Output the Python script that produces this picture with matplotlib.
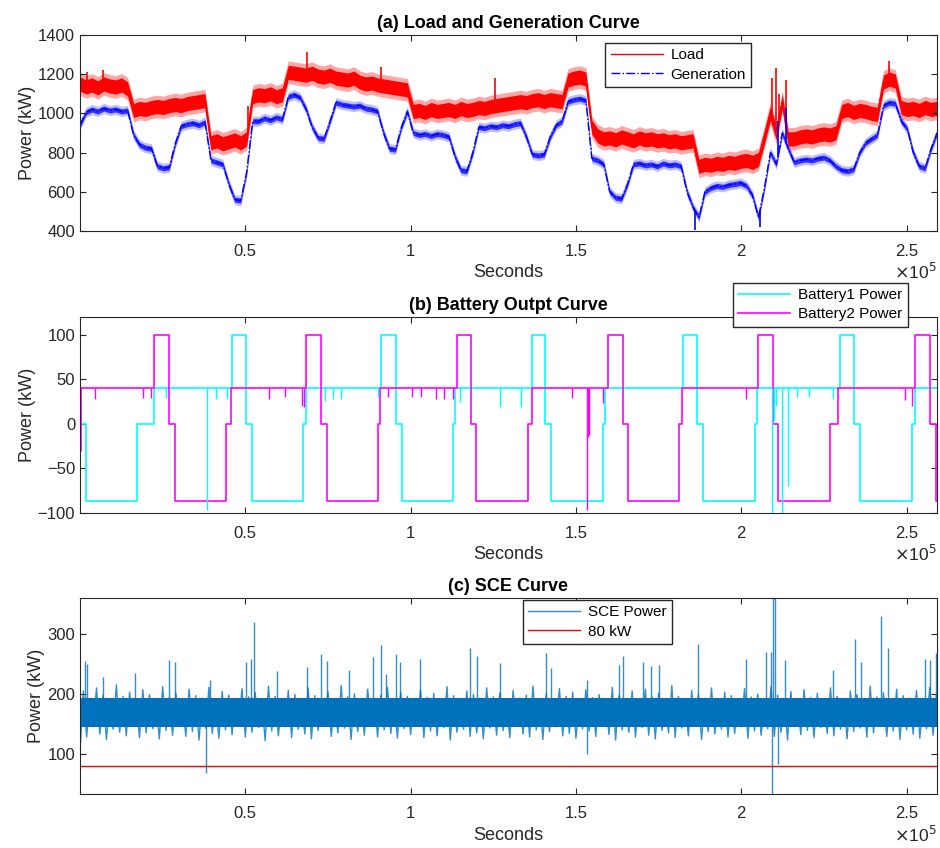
import numpy as np
import matplotlib
matplotlib.use("Agg")
import matplotlib.pyplot as plt

plt.rcParams["font.family"] = ["Liberation Sans", "DejaVu Sans"]

T_END = 259200  # 3 days in seconds

# ---------------- (a) load / generation, one value every 1800 s ----------------
load_kw = np.array([
    1150, 1135, 1145, 1130, 1150, 1140, 1135, 1145, 1125,                    # k0-8
    1015, 1025, 1020, 1030, 1035, 1030, 1040, 1045, 1040, 1050, 1055, 1060, 1065,  # k9-21
    850, 860, 845, 855, 865, 850, 870,                                       # k22-28
    1085, 1095, 1090, 1100, 1085, 1095,                                      # k29-34
    1210, 1205, 1200, 1195, 1205, 1190, 1185, 1195, 1180, 1175, 1170,
    1180, 1160, 1150, 1155, 1145, 1140, 1135, 1130, 1125, 1120,              # k35-55
    1010, 1015, 1005, 1020, 1010, 1015, 1020, 1010, 1025, 1015, 1020, 1030, 1025,
    1035, 1040, 1045, 1050, 1055, 1060, 1055, 1065, 1070, 1060, 1070, 1065, 1060,  # k56-81
    1170, 1180, 1185, 1175,                                                  # k82-85
    930, 885, 870, 875, 865, 880, 870, 860, 875, 865, 870, 860, 865, 855,
    860, 850, 855, 860,                                                      # k86-103
    730, 740, 735, 745, 740, 750, 745, 755, 760, 750, 765,                   # k104-114
    880, 1000, 900, 1060, 870,                                               # k115-119
    870, 880, 885, 880, 890, 895, 890, 900,                                  # k120-127
    1010, 1020, 1005, 1015, 1010, 1000, 995,                                 # k128-134
    1160, 1175, 1165,                                                        # k135-137
    1030, 1020, 1025, 1015, 1030, 1020, 1025,                                # k138-144
])
gen_kw = np.array([
    940, 1005, 1020, 1010, 1025, 1015, 1020, 1010, 1015,
    890, 840, 825, 820, 730, 720, 725, 845, 935, 945, 950, 940, 955,
    760, 750, 740, 640, 560, 555, 700,
    960, 960, 975, 965, 980, 970,
    1085, 1095, 1080, 1020, 930, 875, 870, 960,
    1055, 1045, 1040, 1035, 1040, 1025, 1020, 1010,
    900, 820, 815, 930, 1010,
    900, 890, 895, 885, 895, 890, 880, 780, 710, 705, 800, 930,
    925, 935, 930, 940, 935, 945, 950, 880, 790, 785, 790, 880, 940, 960,
    1060, 1070, 1075, 1065,
    770, 760, 740, 600, 570, 565, 640, 740,
    745, 735, 740, 730, 745, 735, 740, 730, 600, 520,
    470, 600, 620, 630, 625, 635, 640, 645, 630, 580, 470,
    620, 800, 740, 900, 820,
    750, 760, 765, 760, 770, 775, 760, 730,
    710, 705, 715, 800, 850, 870, 890,
    1040, 1055, 1050,
    960, 920, 800, 730, 720, 820, 900,
])
load_spike_t = [2000, 7000, 50800, 68600, 91000, 125500, 209300, 210500, 211400, 213500, 244700]
load_spike_kw = [1212, 1221, 1040, 1313, 1236, 1180, 1180, 1231, 1100, 1170, 1267]
gen_spike_t = [186000, 205600, 211000, 213500]
gen_spike_kw = [405, 420, 960, 1030]

# ---------------- (b) battery power, step change points ----------------
b1_t = [0, 1720, 17150, 22380, 45880, 50210, 52020, 67440, 68350, 91030, 95570,
        97380, 112720, 113420, 136610, 140630, 142450, 158090, 158790, 182370,
        186610, 188420, 204060, 204750, 229860, 234090, 235910, 251640, 252540, T_END]
b1_kw = [0, -86, 0, 40, 100, 0, -86, 0, 40, 100, 0,
         -86, 0, 40, 100, 0, -86, 0, 40, 100,
         0, -86, 0, 40, 100, 0, -86, 0, 40, 40]
b2_t = [0, 300, 22380, 26920, 28730, 44160, 45580, 68350, 72800, 74610, 90040,
        90740, 113930, 118250, 119770, 135490, 136610, 159780, 164230, 165740,
        181170, 181980, 205060, 209500, 211110, 226840, 229260, 252540, 257080,
        258890, T_END]
b2_kw = [-30, 40, 100, 0, -86, 0, 40, 100, 0, -86, 0,
         40, 100, 0, -86, 0, 40, 100, 0, -86,
         0, 40, 100, 0, -86, 0, 40, 100, 0,
         -86, -86]
b1_dip_t = [26010, 38320, 41130, 44370, 74100, 76430, 78820, 90130, 114920, 127020,
            133280, 209200, 209900, 210500, 212220, 214040, 216770, 220530, 227830]
b1_dip_kw = [29, -97, 28, 28, 26, 28, 28, 30, 25, 19,
             19, -100, 4, 20, -100, -70, 30, 30, 28]
b2_dip_t = [4540, 18960, 21380, 57160, 62000, 67140, 67740, 93150, 100410, 103130,
            107670, 110090, 112810, 148710, 153340, 153640, 153940, 158170, 201420,
            249520, 251640]
b2_dip_kw = [28, 29, 29, 28, 30, 20, 19, 30, 30, 30,
             28, 28, 28, 29, -97, -15, -12, 23, 28,
             27, 20]

# ---------------- (c) SCE power: peaks / troughs every 2000 s ----------------
sce_peak = [
    205, 192, 210, 198, 188, 215, 196, 203, 190, 207,
    199, 186, 212, 194, 201, 189, 208, 197, 193, 211,
    187, 204, 198, 191, 209, 195, 202, 188, 213, 196,
    190, 206, 199, 185, 210, 197, 192, 204, 189, 214,
    195, 200, 187, 208, 193, 198, 211, 190, 203, 196,
    188, 207, 194, 201, 186, 212, 197, 192, 205, 199,
    189, 210, 195, 202, 187, 206, 193, 198, 213, 191,
    200, 188, 209, 196, 203, 190, 207, 194, 199, 186,
    211, 197, 192, 205, 189, 208, 195, 201, 187, 214,
    196, 190, 206, 199, 193, 210, 188, 203, 197, 191,
    209, 195, 200, 186, 212, 198, 192, 204, 189, 207,
    194, 201, 188, 210, 196, 191, 205, 199, 187, 213,
    195, 202, 190, 208, 197, 193, 206, 189, 211, 198,
]
sce_trough = [
    101, 128, 145, 133, 124, 141, 136, 130, 147, 127,
    135, 142, 125, 139, 131, 146, 129, 137, 123, 143,
    134, 126, 140, 132, 148, 128, 136, 144, 122, 138,
    130, 145, 127, 141, 133, 125, 139, 147, 129, 135,
    143, 124, 137, 131, 146, 128, 140, 134, 126, 142,
    132, 148, 127, 138, 130, 144, 123, 136, 141, 129,
    135, 125, 143, 131, 139, 127, 146, 133, 128, 140,
    124, 137, 145, 130, 134, 126, 142, 138, 129, 147,
    132, 123, 140, 136, 128, 144, 131, 125, 139, 135,
    127, 143, 130, 146, 124, 137, 133, 141, 128, 134,
    145, 126, 138, 131, 142, 129, 136, 123, 147, 132,
    139, 127, 144, 134, 130, 141, 125, 137, 143, 128,
    135, 146, 129, 138, 124, 140, 133, 126, 142, 131,
]
sce_core = (144, 193)  # dense band where the SCE trace is solid
sce_spike_t = [1600, 2200, 6960, 16550, 26900, 28640, 39320, 50120, 51810, 52530,
               59670, 68660, 72800, 74800, 81270, 88620, 90950, 92640, 95480, 96870,
               102920, 118050, 120070, 126940, 140850, 142370, 153340, 163020, 164230,
               170280, 172790, 175120, 186920, 201340, 207390, 209000, 209600, 210200,
               213130, 227740, 234310, 236300, 242170, 244380, 255480, 256990, 258800,
               38010, 153340, 209300, 211100]
sce_spike_kw = [255, 250, 229, 235, 257, 254, 224, 254, 259, 320,
                239, 245, 266, 255, 240, 262, 282, 233, 266, 254,
                258, 276, 264, 251, 268, 243, 223, 248, 263,
                254, 246, 248, 283, 258, 270, 270, 360, 360,
                256, 240, 291, 254, 330, 276, 259, 256, 268,
                68, 100, 33, 83]
limit_kw = 80

# ---------------- figure ----------------
TXT = "#262626"
SCE_BLUE = "#0072BD"
fig = plt.figure(figsize=(9.4, 8.48), dpi=100)
W, H = 940, 848


def box(top, bottom):
    return [80 / W, 1 - bottom / H, 857 / W, (bottom - top) / H]


ax1 = fig.add_axes(box(35, 231))
ax2 = fig.add_axes(box(317, 513))
ax3 = fig.add_axes(box(598, 794))
leg_kw = dict(loc="upper left", fontsize=11, handlelength=3.4, fancybox=False,
              edgecolor=TXT, framealpha=1, borderpad=0.35, labelspacing=0.35,
              handletextpad=0.5, borderaxespad=0)

# (a)
t_load = np.linspace(0, T_END, len(load_kw))
t_gen = np.linspace(0, T_END, len(gen_kw))
ax1.fill_between(t_load, load_kw - 58, load_kw + 58, color="red", lw=0, alpha=0.35)
ax1.fill_between(t_load, load_kw - 36, load_kw + 36, color="red", lw=0)
ax1.plot(t_load, load_kw, color="red", lw=1, label="Load")
ax1.vlines(load_spike_t, np.interp(load_spike_t, t_load, load_kw), load_spike_kw,
           color="red", lw=1.2)
ax1.fill_between(t_gen, gen_kw - 26, gen_kw + 26, color="blue", lw=0, alpha=0.25)
ax1.fill_between(t_gen, gen_kw - 13, gen_kw + 13, color="blue", lw=0, alpha=0.75)
ax1.plot(t_gen, gen_kw, color="blue", lw=1, ls="-.", label="Generation")
ax1.vlines(gen_spike_t, np.interp(gen_spike_t, t_gen, gen_kw), gen_spike_kw,
           color="blue", lw=1.2)
ax1.set_ylim(400, 1400)
ax1.set_yticks([400, 600, 800, 1000, 1200, 1400])
ax1.set_title("(a) Load and Generation Curve", fontsize=13, fontweight="bold", pad=5)
ax1.legend(bbox_to_anchor=(0.613, 0.96), **leg_kw)

# (b)
ax2.plot(b1_t, b1_kw, color="cyan", lw=1.2, drawstyle="steps-post", label="Battery1 Power")
ax2.plot(b2_t, b2_kw, color="magenta", lw=1.2, drawstyle="steps-post", label="Battery2 Power")
ax2.vlines(b1_dip_t, 40, b1_dip_kw, color="cyan", lw=1)
ax2.vlines(b2_dip_t, 40, b2_dip_kw, color="magenta", lw=1)
ax2.set_ylim(-100, 120)
ax2.set_yticks([-100, -50, 0, 50, 100])
ax2.set_title("(b) Battery Outpt Curve", fontsize=13, fontweight="bold", pad=5)
ax2.legend(bbox_to_anchor=(0.762, 1.175), **leg_kw)

# (c)
n = len(sce_peak)
sce_t = np.empty(2 * n)
sce_t[0::2] = np.arange(n) * 2000
sce_t[1::2] = np.arange(n) * 2000 + 1000
sce_v = np.empty(2 * n)
sce_v[0::2] = sce_trough
sce_v[1::2] = sce_peak
ax3.plot(sce_t, sce_v, color=SCE_BLUE, lw=1.0, alpha=0.8, label="SCE Power")
ax3.fill_between([0, T_END], sce_core[0], sce_core[1], color=SCE_BLUE, lw=0)
ax3.vlines(sce_spike_t, 165, sce_spike_kw, color=SCE_BLUE, lw=1, alpha=0.8)
ax3.plot([0, T_END], [limit_kw, limit_kw], color="red", lw=1, label="80 kW")
ax3.set_ylim(33, 360)
ax3.set_yticks([100, 200, 300])
ax3.set_title("(c) SCE Curve", fontsize=13, fontweight="bold", pad=5)
ax3.legend(bbox_to_anchor=(0.517, 0.99), **leg_kw)

for ax in (ax1, ax2, ax3):
    ax.set_xlim(1, T_END)
    ax.set_xticks([50000, 100000, 150000, 200000, 250000])
    ax.set_xticklabels(["0.5", "1", "1.5", "2", "2.5"])
    ax.tick_params(direction="in", top=True, right=True, length=4, width=0.8,
                   colors=TXT, labelsize=12)
    ax.tick_params(axis="x", pad=9)
    for s in ax.spines.values():
        s.set_color(TXT)
        s.set_linewidth(0.8)
    ax.set_xlabel("Seconds", fontsize=13, color=TXT, labelpad=4)
    ax.set_ylabel("Power (kW)", fontsize=13, color=TXT, labelpad=1.5)
    ax.text(1.0, -0.158, r"$\times$10$^5$", transform=ax.transAxes, ha="right",
            va="top", fontsize=12.5, color=TXT)

fig.savefig("out.png", dpi=100)
